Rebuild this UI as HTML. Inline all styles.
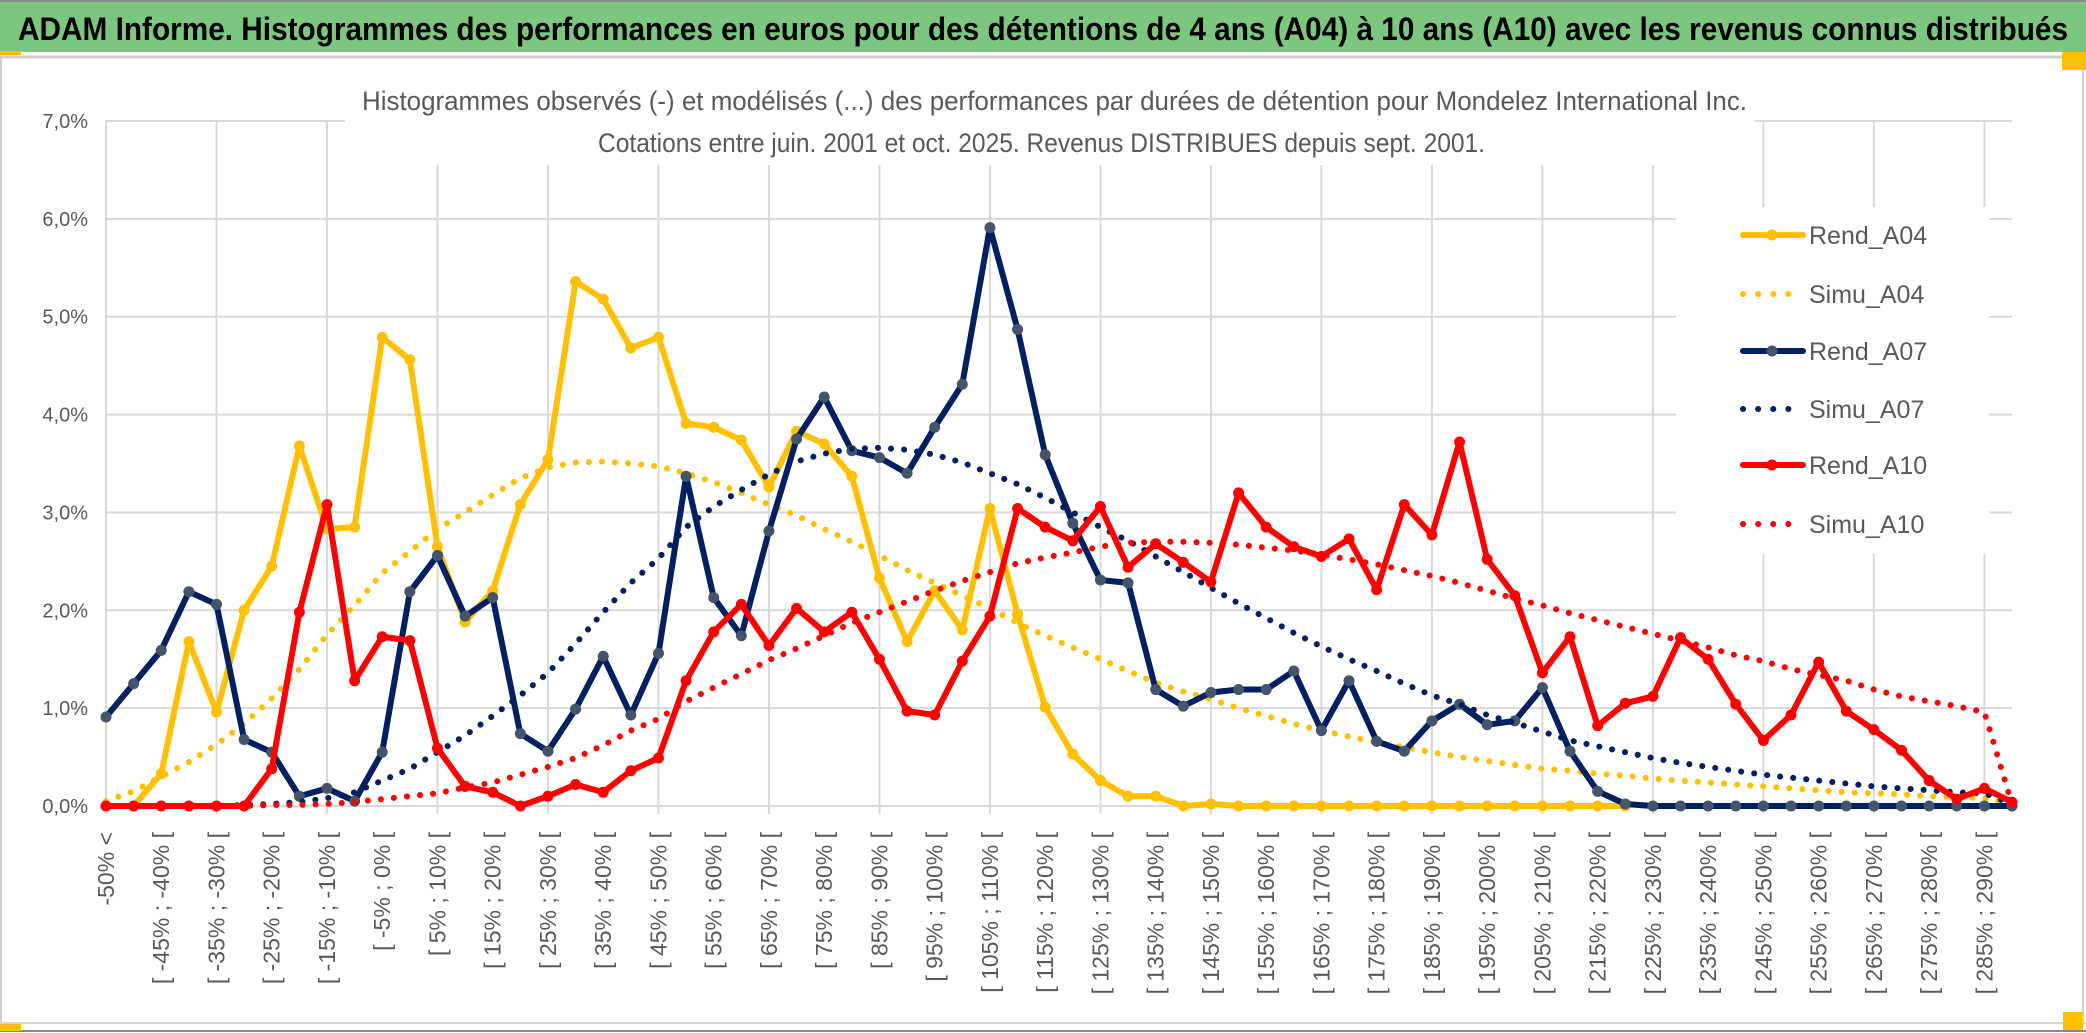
<!DOCTYPE html>
<html><head><meta charset="utf-8">
<style>
html,body{margin:0;padding:0;background:#fff;}
svg{display:block;font-family:"Liberation Sans",sans-serif;}
</style></head>
<body>
<svg id="chart" width="2086" height="1033" viewBox="0 0 2086 1033" xmlns="http://www.w3.org/2000/svg">
  <rect x="0" y="0" width="2086" height="1033" fill="#fff"/>
  <rect x="0" y="2" width="2086" height="50" fill="#7DC67F"/>
  <line x1="0" y1="1" x2="2086" y2="1" stroke="#8a8a8a" stroke-width="2"/>
  <rect x="0" y="51" width="21" height="4" fill="#FFC000"/>
  <line x1="0" y1="57" x2="2086" y2="57" stroke="#d0d0d0" stroke-width="3"/>
  <text x="18" y="40" font-family="'Liberation Sans Narrow','Liberation Sans',sans-serif" font-weight="bold" font-size="32" fill="#000" textLength="2050" lengthAdjust="spacingAndGlyphs">ADAM Informe. Histogrammes des performances en euros pour des détentions de 4 ans (A04) à 10 ans (A10) avec les revenus connus distribués</text>
  <line x1="1" y1="57" x2="1" y2="1023" stroke="#d0d0d0" stroke-width="2"/>
  <line x1="2083" y1="57" x2="2083" y2="1023" stroke="#d0d0d0" stroke-width="2"/>
  <line x1="0" y1="1023" x2="2086" y2="1023" stroke="#d6d6d6" stroke-width="2"/>
  <line x1="0" y1="1031" x2="2086" y2="1031" stroke="#8a8a8a" stroke-width="2"/>
  <rect x="0" y="1024" width="21" height="7" fill="#FFC000"/>
  <rect x="2063" y="1012" width="20" height="18" fill="#FFC000"/>
  <rect x="2062" y="52" width="24" height="18" fill="#FFC000"/>
  <g id="grid"></g>
  <rect x="345" y="60" width="1410" height="105" fill="#fff"/>
  <rect x="1676" y="207" width="313" height="347" fill="#fff"/>
  <text x="362" y="110" font-family="'Liberation Sans Narrow','Liberation Sans',sans-serif" font-size="27" fill="#595959" textLength="1385" lengthAdjust="spacingAndGlyphs">Histogrammes observés (-) et modélisés (...) des performances par durées de détention pour Mondelez International Inc.</text>
  <text x="598" y="152" font-family="'Liberation Sans Narrow','Liberation Sans',sans-serif" font-size="27" fill="#595959" textLength="887" lengthAdjust="spacingAndGlyphs">Cotations entre juin. 2001 et oct. 2025. Revenus DISTRIBUES depuis sept. 2001.</text>
  <g id="axes"></g>
  <g id="series"></g>
  <g id="legend"></g>
</svg>
<script>
const categories = ["-50% <","[ -50% ; -45% [","[ -45% ; -40% [","[ -40% ; -35% [","[ -35% ; -30% [","[ -30% ; -25% [","[ -25% ; -20% [","[ -20% ; -15% [","[ -15% ; -10% [","[ -10% ; -5% [","[ -5% ; 0% [","[ 0% ; 5% [","[ 5% ; 10% [","[ 10% ; 15% [","[ 15% ; 20% [","[ 20% ; 25% [","[ 25% ; 30% [","[ 30% ; 35% [","[ 35% ; 40% [","[ 40% ; 45% [","[ 45% ; 50% [","[ 50% ; 55% [","[ 55% ; 60% [","[ 60% ; 65% [","[ 65% ; 70% [","[ 70% ; 75% [","[ 75% ; 80% [","[ 80% ; 85% [","[ 85% ; 90% [","[ 90% ; 95% [","[ 95% ; 100% [","[ 100% ; 105% [","[ 105% ; 110% [","[ 110% ; 115% [","[ 115% ; 120% [","[ 120% ; 125% [","[ 125% ; 130% [","[ 130% ; 135% [","[ 135% ; 140% [","[ 140% ; 145% [","[ 145% ; 150% [","[ 150% ; 155% [","[ 155% ; 160% [","[ 160% ; 165% [","[ 165% ; 170% [","[ 170% ; 175% [","[ 175% ; 180% [","[ 180% ; 185% [","[ 185% ; 190% [","[ 190% ; 195% [","[ 195% ; 200% [","[ 200% ; 205% [","[ 205% ; 210% [","[ 210% ; 215% [","[ 215% ; 220% [","[ 220% ; 225% [","[ 225% ; 230% [","[ 230% ; 235% [","[ 235% ; 240% [","[ 240% ; 245% [","[ 245% ; 250% [","[ 250% ; 255% [","[ 255% ; 260% [","[ 260% ; 265% [","[ 265% ; 270% [","[ 270% ; 275% [","[ 275% ; 280% [","[ 280% ; 285% [","[ 285% ; 290% [","[ 290% ; 295% ["];
const yTicks = [0,1,2,3,4,5,6,7];
const yTickLabels = ["0,0%","1,0%","2,0%","3,0%","4,0%","5,0%","6,0%","7,0%"];
const rendA04 = [0,0,0.33,1.68,0.96,2.0,2.45,3.68,2.83,2.85,4.79,4.56,2.65,1.88,2.2,3.08,3.54,5.36,5.18,4.68,4.79,3.91,3.87,3.74,3.26,3.83,3.70,3.37,2.33,1.68,2.2,1.8,3.04,1.96,1.01,0.53,0.26,0.10,0.10,0,0.02,0,0,0,0,0,0,0,0,0,0,0,0,0,0,0,null,null,null,null,null,null,null,null,null,null,null,null,null,null];
const simuA04 = [0.05,0.15,0.30,0.45,0.63,0.84,1.10,1.40,1.75,2.05,2.38,2.60,2.83,3.00,3.18,3.35,3.46,3.51,3.52,3.50,3.47,3.40,3.31,3.20,3.08,2.97,2.83,2.70,2.56,2.41,2.28,2.15,2.02,1.87,1.74,1.62,1.50,1.38,1.26,1.17,1.09,1.00,0.92,0.84,0.77,0.71,0.65,0.60,0.55,0.50,0.46,0.42,0.38,0.36,0.33,0.31,0.28,0.26,0.24,0.22,0.20,0.18,0.16,0.14,0.13,0.12,0.10,0.09,0.08,0.02];
const rendA07 = [0.91,1.25,1.59,2.19,2.06,0.68,0.55,0.10,0.18,0.05,0.55,2.19,2.56,1.94,2.13,0.74,0.56,0.99,1.53,0.93,1.56,3.37,2.13,1.74,2.81,3.75,4.18,3.63,3.56,3.40,3.87,4.31,5.91,4.87,3.59,2.89,2.31,2.28,1.19,1.02,1.16,1.19,1.19,1.38,0.77,1.28,0.66,0.56,0.87,1.04,0.83,0.87,1.21,0.56,0.15,0.02,0,0,0,0,0,0,0,0,0,0,0,0,0,0];
const simuA07 = [0,0,0,0,0,0.01,0.02,0.04,0.08,0.14,0.26,0.38,0.55,0.72,0.92,1.13,1.36,1.66,1.98,2.28,2.53,2.85,3.06,3.23,3.39,3.52,3.60,3.65,3.66,3.64,3.59,3.51,3.40,3.29,3.15,3.00,2.85,2.71,2.55,2.39,2.23,2.07,1.92,1.77,1.63,1.50,1.38,1.25,1.13,1.04,0.93,0.85,0.76,0.67,0.61,0.55,0.49,0.44,0.40,0.36,0.32,0.29,0.26,0.23,0.20,0.18,0.16,0.14,0.13,0.02];
const rendA10 = [0,0,0,0,0,0,0.38,1.98,3.08,1.28,1.73,1.69,0.59,0.20,0.14,0,0.10,0.22,0.14,0.36,0.49,1.28,1.78,2.06,1.64,2.02,1.78,1.98,1.50,0.97,0.93,1.48,1.94,3.04,2.85,2.71,3.06,2.44,2.68,2.49,2.29,3.20,2.85,2.65,2.55,2.73,2.21,3.08,2.77,3.72,2.52,2.15,1.36,1.73,0.82,1.05,1.12,1.72,1.50,1.04,0.67,0.93,1.47,0.97,0.78,0.57,0.26,0.07,0.18,0.04];
const simuA10 = [0,0,0,0,0,0,0.01,0.01,0.02,0.04,0.07,0.10,0.13,0.19,0.24,0.32,0.40,0.49,0.62,0.77,0.89,1.07,1.21,1.35,1.49,1.61,1.74,1.87,1.98,2.09,2.20,2.30,2.39,2.48,2.54,2.59,2.65,2.69,2.70,2.70,2.69,2.67,2.64,2.61,2.57,2.52,2.47,2.41,2.35,2.28,2.20,2.12,2.05,1.97,1.90,1.83,1.76,1.69,1.62,1.54,1.48,1.40,1.34,1.28,1.19,1.12,1.07,1.02,0.96,0.02];
const seriesNames = ["Rend_A04","Simu_A04","Rend_A07","Simu_A07","Rend_A10","Simu_A10"];

const NS = "http://www.w3.org/2000/svg";
const X0 = 106, X1 = 2012, Y0 = 806, Y7 = 121;
function xPos(i){ return X0 + i * (X1 - X0) / (categories.length - 1); }
function yPos(v){ return Y0 - v * (Y0 - Y7) / 7; }
function mk(tag, parent){ const e = document.createElementNS(NS, tag); parent.appendChild(e); return e; }

const grid = document.getElementById('grid');
yTicks.forEach(function(t){
  const l = mk('line', grid);
  
  
  l.setAttribute('x1', X0); l.setAttribute('x2', X1);
  l.setAttribute('y1', yPos(t)); l.setAttribute('y2', yPos(t));
  l.setAttribute('stroke', '#d9d9d9'); l.setAttribute('stroke-width', '2');
});
categories.forEach(function(c, i){
  if (i % 4 !== 0) return;
  const l = mk('line', grid);
  
  
  l.setAttribute('x1', xPos(i)); l.setAttribute('x2', xPos(i));
  l.setAttribute('y1', Y7); l.setAttribute('y2', Y0 + 8);
  l.setAttribute('stroke', '#d9d9d9'); l.setAttribute('stroke-width', '2');
});

const axes = document.getElementById('axes');
yTicks.forEach(function(t, k){
  const tx = mk('text', axes);
  
  
  tx.setAttribute('x', 88); tx.setAttribute('y', yPos(t) + 7);
  tx.setAttribute('text-anchor', 'end');
  tx.setAttribute('font-size', '20'); tx.setAttribute('fill', '#595959');
  tx.textContent = yTickLabels[k];
});
categories.forEach(function(c, i){
  if (i % 2 !== 0) return;
  const tx = mk('text', axes);
  
  
  const x = xPos(i) + 8, y = 832;
  tx.setAttribute('x', x); tx.setAttribute('y', y);
  tx.setAttribute('transform', 'rotate(-90 ' + x + ' ' + y + ')');
  tx.setAttribute('text-anchor', 'end');
  tx.setAttribute('font-size', '23'); tx.setAttribute('fill', '#595959');
  tx.textContent = c;
});

const seriesG = document.getElementById('series');
function drawSeries(vals, color, dotted, markerColor, name){
  const g = mk('g', seriesG);
  
  
  let d = '', pen = false;
  vals.forEach(function(v, i){
    if (v === null) { pen = false; return; }
    d += (pen ? 'L' : 'M') + xPos(i).toFixed(1) + ' ' + yPos(v).toFixed(1) + ' ';
    pen = true;
  });
  const p = mk('path', g);
  
  
  p.setAttribute('d', d); p.setAttribute('fill', 'none');
  p.setAttribute('stroke', color); p.setAttribute('stroke-width', '6');
  p.setAttribute('stroke-linejoin', 'round'); p.setAttribute('stroke-linecap', 'round');
  if (dotted) p.setAttribute('stroke-dasharray', '0.1 13');
  if (markerColor) {
    vals.forEach(function(v, i){
      if (v === null) return;
      const c = mk('circle', g);
      
      
      c.setAttribute('cx', xPos(i)); c.setAttribute('cy', yPos(v));
      c.setAttribute('r', '5.5'); c.setAttribute('fill', markerColor);
    });
  }
}
drawSeries(rendA04, '#FFC000', false, '#FFC000', 'series-rend-a04');
drawSeries(simuA04, '#FFC000', true, null, 'series-simu-a04');
drawSeries(rendA07, '#002060', false, '#44546A', 'series-rend-a07');
drawSeries(simuA07, '#002060', true, null, 'series-simu-a07');
drawSeries(rendA10, '#FF0000', false, '#FF0000', 'series-rend-a10');
drawSeries(simuA10, '#FF0000', true, null, 'series-simu-a10');

const legend = document.getElementById('legend');
const legColors = ['#FFC000','#FFC000','#002060','#002060','#FF0000','#FF0000'];
const legMarkers = ['#FFC000',null,'#44546A',null,'#FF0000',null];
const legY = [235,294,351,409,465,524];
seriesNames.forEach(function(n, k){
  const g = mk('g', legend);
  
  
  const l = mk('line', g);
  
  
  l.setAttribute('x1', 1743); l.setAttribute('x2', 1803);
  l.setAttribute('y1', legY[k]); l.setAttribute('y2', legY[k]);
  l.setAttribute('stroke', legColors[k]); l.setAttribute('stroke-width', '6');
  l.setAttribute('stroke-linecap', 'round');
  if (legMarkers[k] === null) l.setAttribute('stroke-dasharray', '0.1 15');
  else {
    const c = mk('circle', g);
    
    
    c.setAttribute('cx', 1772); c.setAttribute('cy', legY[k]);
    c.setAttribute('r', '5.5'); c.setAttribute('fill', legMarkers[k]);
  }
  const t = mk('text', g);
  
  
  t.setAttribute('x', 1809); t.setAttribute('y', legY[k] + 9);
  t.setAttribute('font-size', '25'); t.setAttribute('fill', '#595959');
  t.textContent = n;
});
</script>
</body></html>
